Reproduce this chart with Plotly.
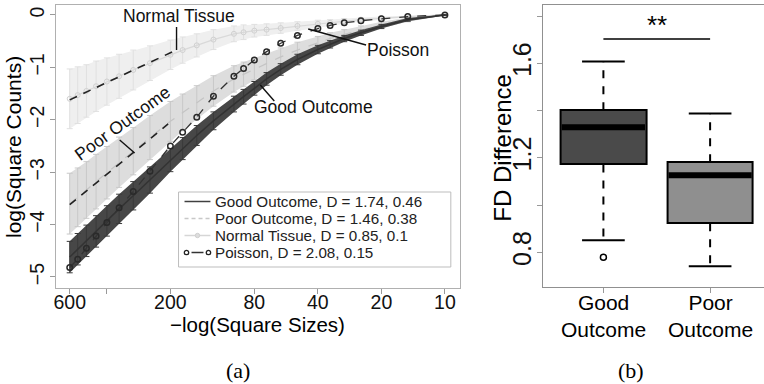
import plotly.graph_objects as go
import numpy as np

W, H = 764, 384
FONT = "Liberation Sans, Arial, sans-serif"
SERIF = "Liberation Serif, Times New Roman, serif"


def px(x):
    return x / W


def py(y):
    return 1 - y / H


# ---------------- panel (a) data ----------------
sizes = [600, 550, 500, 450, 400, 350, 300, 250, 200, 175, 150, 125, 100,
         90, 80, 70, 60, 50, 40, 35, 30, 25, 20, 15, 10]

good_mean = [-4.62, -4.47, -4.31, -4.13, -3.93, -3.70, -3.45, -3.15, -2.77, -2.55,
             -2.30, -2.02, -1.70, -1.56, -1.40, -1.22, -1.04, -0.85, -0.66, -0.56,
             -0.45, -0.34, -0.22, -0.09, 0.0]
good_err = [0.30, 0.30, 0.30, 0.30, 0.29, 0.28, 0.27, 0.25, 0.22, 0.21, 0.19, 0.17,
            0.15, 0.14, 0.13, 0.12, 0.11, 0.10, 0.08, 0.07, 0.06, 0.05, 0.04, 0.03, 0.01]

poor_mean = [-3.60, -3.48, -3.34, -3.18, -3.01, -2.81, -2.60, -2.34, -2.03, -1.86,
             -1.67, -1.45, -1.22, -1.13, -1.03, -0.92, -0.80, -0.67, -0.53, -0.45,
             -0.37, -0.29, -0.19, -0.09, 0.0]
poor_err = [0.58, 0.56, 0.54, 0.52, 0.50, 0.48, 0.45, 0.42, 0.38, 0.35, 0.32, 0.29,
            0.25, 0.23, 0.21, 0.19, 0.17, 0.15, 0.12, 0.11, 0.09, 0.08, 0.06, 0.04, 0.01]

normal_mean = [-1.60, -1.53, -1.45, -1.36, -1.27, -1.17, -1.05, -0.92, -0.76, -0.67,
               -0.58, -0.47, -0.36, -0.33, -0.30, -0.28, -0.25, -0.21, -0.17, -0.15,
               -0.12, -0.09, -0.06, -0.03, 0.0]
normal_err = [0.57, 0.54, 0.50, 0.48, 0.45, 0.42, 0.38, 0.33, 0.28, 0.25, 0.22, 0.19,
              0.15, 0.14, 0.12, 0.11, 0.10, 0.08, 0.07, 0.06, 0.05, 0.04, 0.03, 0.02, 0.01]

poisson_mean = [-4.82, -4.66, -4.45, -4.22, -3.96, -3.68, -3.37, -2.98, -2.50, -2.24,
                -1.95, -1.55, -1.17, -1.02, -0.86, -0.70, -0.54, -0.39, -0.26, -0.20,
                -0.15, -0.11, -0.07, -0.03, 0.0]

normal_fit_sizes = [600, 190]
normal_fit_vals = [-1.62, -0.68]
poor_fit_sizes = [600, 205]
poor_fit_vals = [-3.62, -2.08]

series_names = ["Good Outcome", "Poor Outcome", "Normal Tissue", "Poisson"]
D_main = [1.74, 1.46, 0.85, 2.08]
D_sd = [0.46, 0.38, 0.1, 0.15]

x_ticks = [600, 400, 200, 80, 40, 20, 10]
x_ticktext = ["600", "", "200", "80", "40", "20", "10"]
y_ticks = [0, -1, -2, -3, -4, -5]
y_ticktext = ["0", "−1", "−2", "−3", "−4", "−5"]

# ---------------- panel (b) data ----------------
box_groups = ["Good Outcome", "Poor Outcome"]
box_pos = [1, 2]
box_q1 = [1.172, 0.923]
box_med = [1.329, 1.126]
box_q3 = [1.401, 1.181]
box_low = [0.851, 0.741]
box_high = [1.608, 1.388]
box_outliers = [[0.779], []]
box_fill = ["#4a4a4a", "#8f8f8f"]
b_ticks = [0.8, 1.0, 1.2, 1.4, 1.6, 1.8]
b_ticktext = ["0.8", "", "1.2", "", "1.6", ""]
sig_text = "**"
sig_level = 1.703

fig = go.Figure()


def band(mean, err, fill):
    lo = [m - e for m, e in zip(mean, err)]
    hi = [m + e for m, e in zip(mean, err)]
    fig.add_trace(go.Scatter(x=sizes, y=lo, mode="lines", line=dict(width=0),
                             hoverinfo="skip", showlegend=False, xaxis="x", yaxis="y"))
    fig.add_trace(go.Scatter(x=sizes, y=hi, mode="lines", line=dict(width=0),
                             fill="tonexty", fillcolor=fill, hoverinfo="skip",
                             showlegend=False, xaxis="x", yaxis="y"))


# Normal tissue
band(normal_mean, normal_err, "#efefef")
fig.add_trace(go.Scatter(
    x=sizes, y=normal_mean, mode="lines+markers",
    line=dict(color="#d9d9d9", width=1.2),
    marker=dict(symbol="circle-open", size=5, color="#d0d0d0", line=dict(width=1)),
    error_y=dict(type="data", array=normal_err, color="#e0e0e0", thickness=1, width=3),
    showlegend=False, xaxis="x", yaxis="y"))

# Poor outcome
band(poor_mean, poor_err, "#dddddd")
fig.add_trace(go.Scatter(
    x=sizes, y=poor_mean, mode="lines",
    line=dict(color="#c4c4c4", width=1.2, dash="dash"),
    error_y=dict(type="data", array=poor_err, color="#c8c8c8", thickness=1, width=3),
    showlegend=False, xaxis="x", yaxis="y"))

# Good outcome
band(good_mean, good_err, "#474747")
fig.add_trace(go.Scatter(
    x=sizes, y=good_mean, mode="lines",
    line=dict(color="#333333", width=1.5),
    error_y=dict(type="data", array=good_err, color="#3a3a3a", thickness=1, width=3),
    showlegend=False, xaxis="x", yaxis="y"))

# Poisson
fig.add_trace(go.Scatter(
    x=sizes, y=poisson_mean, mode="lines+markers",
    line=dict(color="#333333", width=1.3, dash="dash"),
    marker=dict(symbol="circle-open", size=5.5, color="#2a2a2a", line=dict(width=1.5)),
    showlegend=False, xaxis="x", yaxis="y"))

# fitted lines
for fs, fv in [(normal_fit_sizes, normal_fit_vals), (poor_fit_sizes, poor_fit_vals)]:
    fig.add_trace(go.Scatter(x=fs, y=fv, mode="lines",
                             line=dict(color="#222222", width=1.6, dash="8px,7px"),
                             showlegend=False, xaxis="x", yaxis="y"))

# ---------------- panel (b) traces ----------------
half_w = 0.4
cap_w = 0.2
for i in range(len(box_groups)):
    c = box_pos[i]
    fig.add_trace(go.Bar(x=[c], y=[box_q3[i] - box_q1[i]], base=[box_q1[i]], width=2 * half_w,
                         marker=dict(color=box_fill[i], line=dict(color="#000000", width=2)),
                         showlegend=False, xaxis="x2", yaxis="y2", hoverinfo="skip"))
    fig.add_trace(go.Scatter(x=[c - half_w + 0.01, c + half_w - 0.01], y=[box_med[i]] * 2, mode="lines",
                             line=dict(color="#000000", width=6), showlegend=False,
                             xaxis="x2", yaxis="y2"))
    for a, b in [(box_q3[i], box_high[i]), (box_q1[i], box_low[i])]:
        fig.add_trace(go.Scatter(x=[c, c], y=[a, b], mode="lines",
                                 line=dict(color="#000000", width=2, dash="8px,8px"),
                                 showlegend=False, xaxis="x2", yaxis="y2"))
    for v in [box_high[i], box_low[i]]:
        fig.add_trace(go.Scatter(x=[c - cap_w, c + cap_w], y=[v, v], mode="lines",
                                 line=dict(color="#000000", width=2),
                                 showlegend=False, xaxis="x2", yaxis="y2"))
    if box_outliers[i]:
        fig.add_trace(go.Scatter(x=[c] * len(box_outliers[i]), y=box_outliers[i], mode="markers",
                                 marker=dict(symbol="circle-open", size=6, color="#000000",
                                             line=dict(width=1.5)),
                                 showlegend=False, xaxis="x2", yaxis="y2"))

fig.add_trace(go.Scatter(x=box_pos, y=[sig_level, sig_level], mode="lines",
                         line=dict(color="#000000", width=1.5), showlegend=False,
                         xaxis="x2", yaxis="y2"))

annotations = []
shapes = []


def ann(**kw):
    d = dict(showarrow=False, xanchor="center", yanchor="middle")
    d.update(kw)
    annotations.append(d)


# significance stars
ann(x=sum(box_pos) / 2, y=1.764, xref="x2", yref="y2", text=sig_text,
    font=dict(family=FONT, size=26, color="#000"))

# panel (a) labels with pointer lines
labels_a = [
    ("Normal Tissue", 177, 16, 0, (175, 27, 175, 50)),
    ("Poor Outcome", 121, 123, -36, (118, 140, 133, 153)),
    ("Good Outcome", 312, 107, 0, (259, 85, 273, 101)),
    ("Poisson", 397, 50, 0, (307, 29, 365, 45)),
]
for t, x, y, ang, ln in labels_a:
    ann(x=px(x), y=py(y), xref="paper", yref="paper", text=t, textangle=ang,
        font=dict(family=FONT, size=17.5, color="#111"))
    shapes.append(dict(type="line", xref="paper", yref="paper", x0=px(ln[0]), y0=py(ln[1]),
                       x1=px(ln[2]), y1=py(ln[3]), line=dict(color="#111", width=1.4)))

# manual legend
shapes.append(dict(type="rect", xref="paper", yref="paper", x0=px(177), y0=py(192),
                   x1=px(450), y1=py(267), line=dict(color="#bdbdbd", width=1),
                   fillcolor="white", layer="above"))
rows = [201.5, 218.5, 235.5, 252.5]
for k, (nm, d1, d2) in enumerate(zip(series_names, D_main, D_sd)):
    ann(x=px(212), y=py(rows[k]), xref="paper", yref="paper",
        text=f"{nm}, D = {d1}, {d2}", xanchor="left",
        font=dict(family=FONT, size=15.2, color="#222"))
leg_line = dict(type="line", xref="paper", yref="paper", layer="above")
shapes.append(dict(leg_line, x0=px(183), x1=px(209), y0=py(rows[0]), y1=py(rows[0]),
                   line=dict(color="#404040", width=1.5)))
shapes.append(dict(leg_line, x0=px(183), x1=px(209), y0=py(rows[1]), y1=py(rows[1]),
                   line=dict(color="#c8c8c8", width=1.3, dash="4px,3px")))
shapes.append(dict(leg_line, x0=px(183), x1=px(209), y0=py(rows[2]), y1=py(rows[2]),
                   line=dict(color="#d6d6d6", width=1.5)))
r = 2.2
shapes.append(dict(type="circle", xref="paper", yref="paper", layer="above",
                   x0=px(196 - r), x1=px(196 + r), y0=py(rows[2] - r), y1=py(rows[2] + r),
                   line=dict(color="#cfcfcf", width=1), fillcolor="#dddddd"))
shapes.append(dict(leg_line, x0=px(190), x1=px(202), y0=py(rows[3]), y1=py(rows[3]),
                   line=dict(color="#333333", width=1.5)))
for cx in (185, 207):
    shapes.append(dict(type="circle", xref="paper", yref="paper", layer="above",
                       x0=px(cx - r), x1=px(cx + r), y0=py(rows[3] - r), y1=py(rows[3] + r),
                       line=dict(color="#222", width=1.3), fillcolor="white"))

# axis titles and panel letters
ann(x=px(256), y=py(324), xref="paper", yref="paper", text="−log(Square Sizes)",
    font=dict(family=FONT, size=20.5, color="#000"))
ann(x=px(11), y=py(147), xref="paper", yref="paper", text="log(Square Counts)",
    textangle=-90, font=dict(family=FONT, size=21, color="#000"))
ann(x=px(501), y=py(148), xref="paper", yref="paper", text="FD Difference",
    textangle=-90, font=dict(family=FONT, size=24, color="#000"))
ann(x=px(237), y=py(370), xref="paper", yref="paper", text="(a)",
    font=dict(family=SERIF, size=22, color="#000"))
ann(x=px(631), y=py(370), xref="paper", yref="paper", text="(b)",
    font=dict(family=SERIF, size=22, color="#000"))

# panel (b) category labels (two lines each)
for c, g in zip(box_pos, box_groups):
    ann(x=c, y=py(316), xref="x2", yref="paper", text=g.replace(" ", "<br>"),
        font=dict(family=FONT, size=21, color="#000"))

fig.update_layout(
    width=W, height=H, margin=dict(l=0, r=0, t=0, b=0),
    paper_bgcolor="white", plot_bgcolor="white", showlegend=False,
    xaxis=dict(domain=[px(54), px(459)], type="log",
               range=[np.log10(698), np.log10(8.5)],
               tickvals=x_ticks, ticktext=x_ticktext, ticks="outside", ticklen=5,
               tickcolor="#999", showline=True, mirror=True, linecolor="#b0b0b0",
               linewidth=1, showgrid=False, zeroline=False, ticklabelstandoff=-8,
               tickfont=dict(family=FONT, size=19.5, color="#111")),
    yaxis=dict(domain=[py(288), py(5)], range=[-5.21, 0.19],
               tickvals=y_ticks, ticktext=y_ticktext, tickangle=-90, ticks="outside",
               ticklen=5, tickcolor="#999", showline=True, mirror=True,
               linecolor="#b0b0b0", linewidth=1, showgrid=False, zeroline=False,
               ticklabelstandoff=-2,
               tickfont=dict(family=FONT, size=19.5, color="#111")),
    xaxis2=dict(domain=[px(542), 1.0], range=[0.43, 2.505], tickvals=box_pos,
                ticktext=["", ""], ticks="outside", ticklen=5, tickcolor="#999",
                showline=True, mirror=True, linecolor="#909090", linewidth=1,
                showgrid=False, zeroline=False, anchor="y2"),
    yaxis2=dict(domain=[py(287), py(5)], range=[0.653, 1.847], anchor="x2",
                tickvals=b_ticks, ticktext=b_ticktext, tickangle=-90, ticks="outside",
                ticklen=5, tickcolor="#999", showline=True, mirror=False,
                linecolor="#909090", linewidth=1, showgrid=False, zeroline=False,
                ticklabelstandoff=-4,
                tickfont=dict(family=FONT, size=25, color="#111")),
    annotations=annotations, shapes=shapes, bargap=0,
)

fig.write_html("out.html")
